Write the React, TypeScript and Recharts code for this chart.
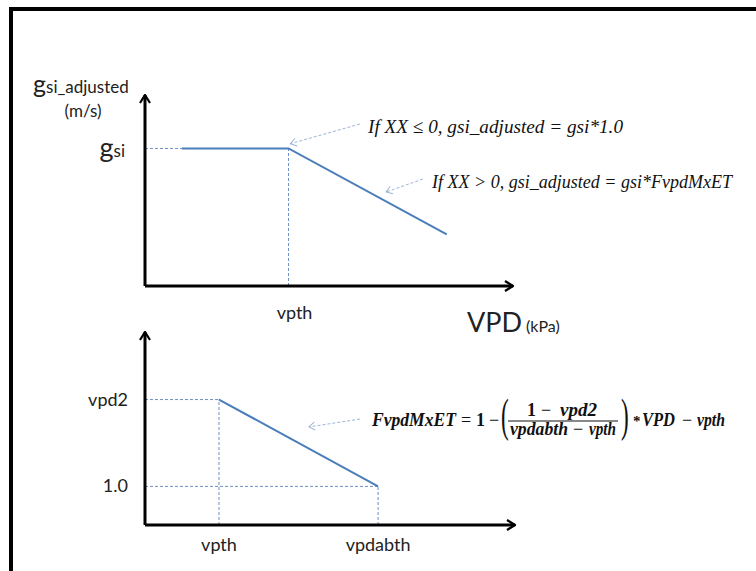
import React from 'react';
import { LineChart, Line, XAxis, YAxis, ReferenceLine } from 'recharts';

// conceptual units (axes run 0..10)
const TOP_X = [1.0, 3.9, 8.2];
const TOP_Y = [7.2, 7.2, 2.7];
const TOP_X_TICKS = [3.9];
const TOP_X_LABELS = ['vpth'];
const TOP_Y_TICKS = [7.2];

const BOT_X = [2.0, 6.3];
const BOT_Y = [6.5, 2.0];
const BOT_X_TICKS = [2.0, 6.3];
const BOT_X_LABELS = ['vpth', 'vpdabth'];
const BOT_Y_TICKS = [6.5, 2.0];
const BOT_Y_LABELS = ['vpd2', '1.0'];

const topData = TOP_X.map((x, i) => ({ x, y: TOP_Y[i] }));
const botData = BOT_X.map((x, i) => ({ x, y: BOT_Y[i] }));

// annotation arrows in data units [tail, head]
const TOP_NOTES = [
  [{ x: 5.84, y: 8.48 }, { x: 3.95, y: 7.45 }],
  [{ x: 7.55, y: 5.6 }, { x: 6.55, y: 4.92 }],
];
const BOT_NOTES = [[{ x: 5.81, y: 5.49 }, { x: 4.43, y: 5.08 }]];

const LINE_BLUE = '#4a7ebb';
const DASH_BLUE = '#6d8fc4';
const NOTE_BLUE = '#9fb4d6';
const SANS = 'Lato, "Open Sans", sans-serif';
const SERIF = '"Liberation Serif", "DejaVu Serif", serif';

const xTick = (labels: string[], ticks: number[], dy: number, dx: number) => (props: any) => {
  const { x, y, payload } = props;
  const i = ticks.indexOf(payload.value);
  return (
    <text x={x + dx} y={y + dy} textAnchor="middle" fontFamily={SANS} fontSize={18} fill="#222">
      {labels[i]}
    </text>
  );
};

const gsiTick = (props: any) => {
  const { x, y } = props;
  return (
    <text x={x} y={y + 9} textAnchor="end" fontFamily={SANS} fill="#222">
      <tspan fontSize={27}>g</tspan>
      <tspan fontSize={17}>si</tspan>
    </text>
  );
};

const botYTick = (props: any) => {
  const { x, y, payload } = props;
  const i = BOT_Y_TICKS.indexOf(payload.value);
  return (
    <text x={x} y={y + 6} textAnchor="end" fontFamily={SANS} fontSize={18} fill="#222">
      {BOT_Y_LABELS[i]}
    </text>
  );
};

const axisX = { stroke: '#000', strokeWidth: 3, markerEnd: 'url(#axisArrow)' };
const axisY = { stroke: '#000', strokeWidth: 3, markerStart: 'url(#axisArrow)' };

export default function App() {
  return (
    <div
      style={{
        position: 'fixed',
        left: 0,
        top: 0,
        width: 756,
        height: 571,
        overflow: 'hidden',
        background: '#fff',
      }}
    >
      <svg width={0} height={0} style={{ position: 'absolute' }}>
        <defs>
          <marker id="axisArrow" viewBox="0 0 10 12" refX={9} refY={6} markerWidth={10} markerHeight={12}
            markerUnits="userSpaceOnUse" orient="auto-start-reverse">
            <path d="M1,1 L9,6 L1,11" fill="none" stroke="#000" strokeWidth={2.2} />
          </marker>
          <marker id="noteArrow" viewBox="0 0 8 10" refX={7} refY={5} markerWidth={8} markerHeight={10}
            markerUnits="userSpaceOnUse" orient="auto">
            <path d="M1,1 L7,5 L1,9" fill="none" stroke={NOTE_BLUE} strokeWidth={1} />
          </marker>
        </defs>
      </svg>

      <div
        style={{
          position: 'absolute',
          left: 9,
          top: 7,
          width: 900,
          height: 700,
          borderTop: '4px solid #000',
          borderLeft: '4px solid #000',
        }}
      />

      {/* upper panel: gsi_adjusted vs VPD */}
      <div style={{ position: 'absolute', left: 0, top: 0 }}>
        <LineChart width={756} height={330} data={topData} margin={{ top: 95, right: 243, bottom: 14, left: 85 }}>
          <XAxis dataKey="x" type="number" domain={[0, 10]} ticks={TOP_X_TICKS} height={30}
            axisLine={axisX} tickLine={false} tickSize={0} tickMargin={0}
            tick={xTick(TOP_X_LABELS, TOP_X_TICKS, 33, 6)} />
          <YAxis type="number" domain={[0, 10]} ticks={TOP_Y_TICKS} width={60}
            axisLine={axisY} tickLine={false} tickSize={0} tickMargin={20} tick={gsiTick} />
          <ReferenceLine segment={[{ x: 0, y: TOP_Y[0] }, { x: TOP_X[0], y: TOP_Y[0] }]}
            stroke={DASH_BLUE} strokeDasharray="3 2" strokeWidth={1} />
          <ReferenceLine segment={[{ x: TOP_X[1], y: 0 }, { x: TOP_X[1], y: TOP_Y[1] }]}
            stroke={DASH_BLUE} strokeDasharray="3 2" strokeWidth={1} />
          {TOP_NOTES.map((s, i) => (
            <ReferenceLine key={i} segment={s} stroke={NOTE_BLUE} strokeDasharray="3 2"
              strokeWidth={1} markerEnd="url(#noteArrow)" />
          ))}
          <Line dataKey="y" stroke={LINE_BLUE} strokeWidth={2} dot={false} isAnimationActive={false} />
        </LineChart>
      </div>

      {/* lower panel: FvpdMxET */}
      <div style={{ position: 'absolute', left: 0, top: 300 }}>
        <LineChart width={756} height={271} data={botData} margin={{ top: 32, right: 241, bottom: 16, left: 85 }}>
          <XAxis dataKey="x" type="number" domain={[0, 10]} ticks={BOT_X_TICKS} height={30}
            axisLine={axisX} tickLine={false} tickSize={0} tickMargin={0}
            tick={xTick(BOT_X_LABELS, BOT_X_TICKS, 26, 0)} />
          <YAxis type="number" domain={[0, 10]} ticks={BOT_Y_TICKS} width={60}
            axisLine={axisY} tickLine={false} tickSize={0} tickMargin={17} tick={botYTick} />
          <ReferenceLine segment={[{ x: 0, y: BOT_Y[0] }, { x: BOT_X[0], y: BOT_Y[0] }]}
            stroke={DASH_BLUE} strokeDasharray="3 2" strokeWidth={1} />
          <ReferenceLine segment={[{ x: 0, y: BOT_Y[1] }, { x: BOT_X[1], y: BOT_Y[1] }]}
            stroke={DASH_BLUE} strokeDasharray="3 2" strokeWidth={1} />
          <ReferenceLine segment={[{ x: BOT_X[0], y: 0 }, { x: BOT_X[0], y: BOT_Y[0] }]}
            stroke={DASH_BLUE} strokeDasharray="3 2" strokeWidth={1} />
          <ReferenceLine segment={[{ x: BOT_X[1], y: 0 }, { x: BOT_X[1], y: BOT_Y[1] }]}
            stroke={DASH_BLUE} strokeDasharray="3 2" strokeWidth={1} />
          {BOT_NOTES.map((s, i) => (
            <ReferenceLine key={i} segment={s} stroke={NOTE_BLUE} strokeDasharray="3 2"
              strokeWidth={1} markerEnd="url(#noteArrow)" />
          ))}
          <Line dataKey="y" stroke={LINE_BLUE} strokeWidth={2} dot={false} isAnimationActive={false} />
        </LineChart>
      </div>

      {/* titles and annotations */}
      <svg width={756} height={571} style={{ position: 'absolute', left: 0, top: 0, pointerEvents: 'none' }}>
        <text x={33} y={93} fontFamily={SANS} fill="#222">
          <tspan fontSize={25}>g</tspan>
          <tspan fontSize={17}>si_adjusted</tspan>
        </text>
        <text x={83} y={117} textAnchor="middle" fontFamily={SANS} fontSize={17} fill="#222">(m/s)</text>
        <text x={467} y={332} fontFamily={SANS} fill="#222">
          <tspan fontSize={27}>VPD</tspan>
          <tspan fontSize={16} dx={4}>(kPa)</tspan>
        </text>

        <text x={368} y={133} fontFamily={SERIF} fontStyle="italic" fontSize={19} fill="#111"
          textLength={255} lengthAdjust="spacingAndGlyphs">
          If XX ≤ 0, gsi_adjusted = gsi*1.0
        </text>
        <text x={432} y={188} fontFamily={SERIF} fontStyle="italic" fontSize={19} fill="#111"
          textLength={300} lengthAdjust="spacingAndGlyphs">
          If XX &gt; 0, gsi_adjusted = gsi*FvpdMxET
        </text>

        <g fontFamily={SERIF} fontStyle="italic" fontWeight="bold" fontSize={18} fill="#111">
          <text x={372} y={426} textLength={84} lengthAdjust="spacingAndGlyphs">FvpdMxET</text>
          <text x={461} y={426} fontStyle="normal" fontWeight="normal">=</text>
          <text x={476} y={426} fontStyle="normal">1</text>
          <text x={489} y={426} fontStyle="normal" fontWeight="normal">−</text>
          <text x={527} y={416} fontStyle="normal">1</text>
          <text x={541} y={416} fontStyle="normal" fontWeight="normal">−</text>
          <text x={560} y={416} textLength={37} lengthAdjust="spacingAndGlyphs">vpd2</text>
          <text x={510} y={435} textLength={58} lengthAdjust="spacingAndGlyphs">vpdabth</text>
          <text x={573} y={435} fontStyle="normal" fontWeight="normal">−</text>
          <text x={589} y={435} textLength={27} lengthAdjust="spacingAndGlyphs">vpth</text>
          <text x={633} y={426} fontStyle="normal" fontSize={15}>*</text>
          <text x={642} y={426} textLength={33} lengthAdjust="spacingAndGlyphs">VPD</text>
          <text x={682} y={426} fontStyle="normal" fontWeight="normal">−</text>
          <text x={697} y={426} textLength={28} lengthAdjust="spacingAndGlyphs">vpth</text>
        </g>
        <line x1={508} y1={421} x2={618} y2={421} stroke="#111" strokeWidth={1} />
        <g fontFamily={SERIF} fontSize={42} fill="#111">
          <text transform="translate(501,431) scale(0.55,1.1)">(</text>
          <text transform="translate(621,431) scale(0.55,1.1)">)</text>
        </g>
      </svg>
    </div>
  );
}
